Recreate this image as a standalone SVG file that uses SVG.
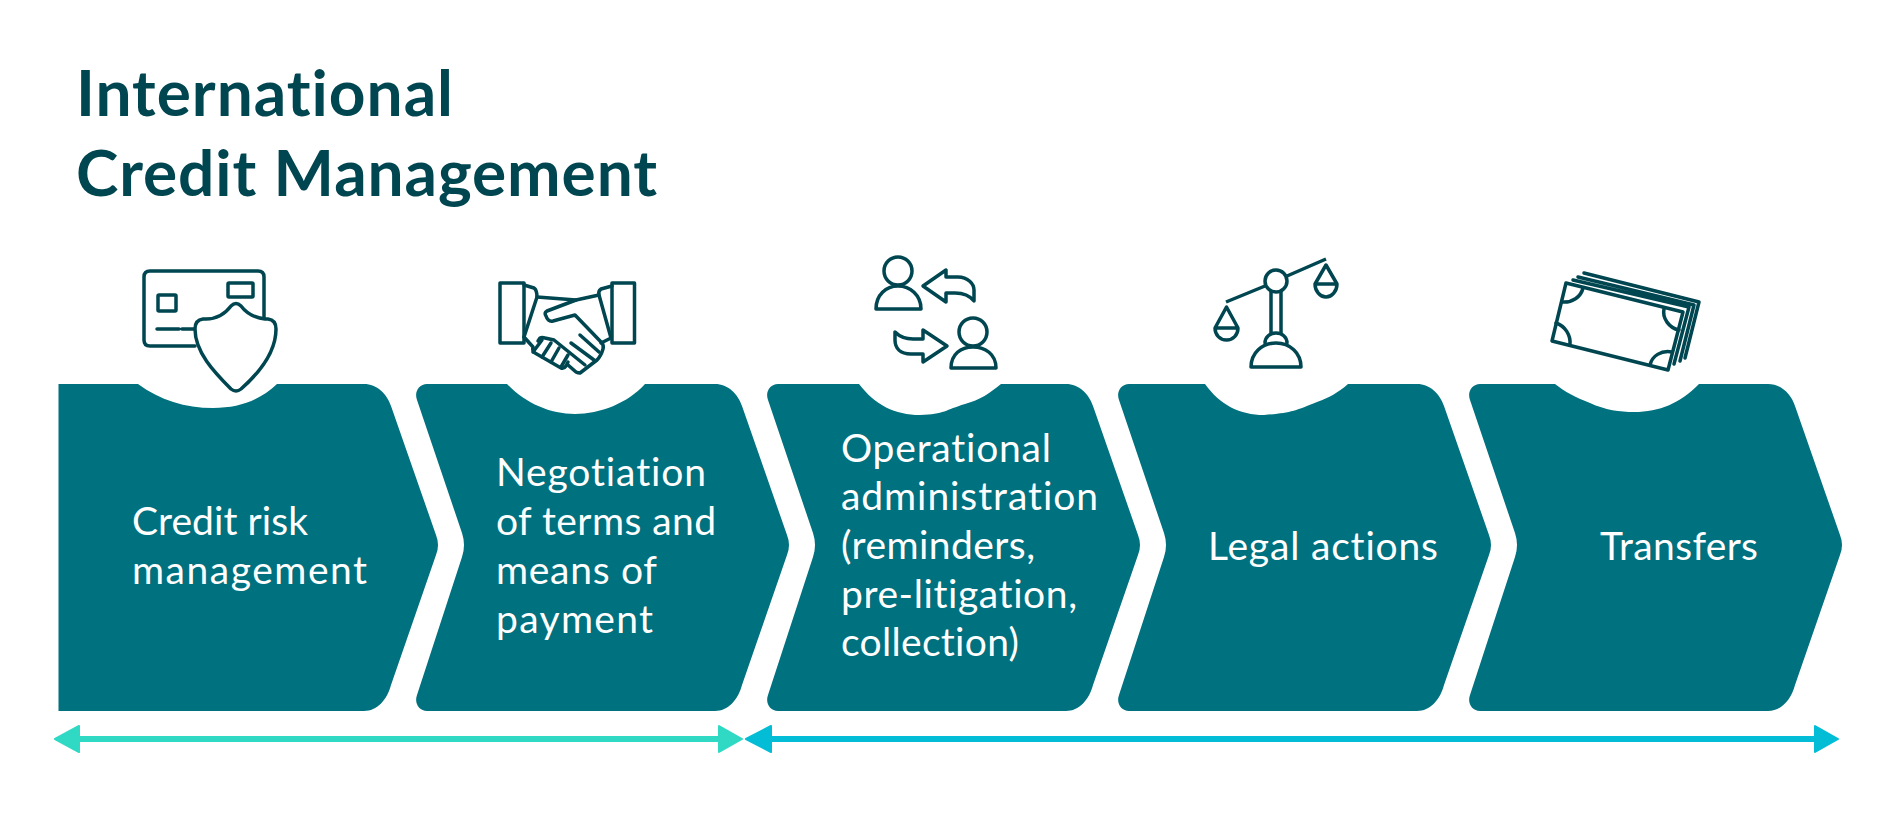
<svg xmlns="http://www.w3.org/2000/svg" width="1900" height="833" viewBox="0 0 1900 833">
<style>
text{font-variant-ligatures:none;font-family:"Lato","Noto Sans",sans-serif}
.block{fill:#00717f}
.label{font-size:39px;font-weight:400;fill:#fff}
.title{font-size:64px;font-weight:700;fill:#004651}
.icon{fill:none;stroke:#004651;stroke-width:3.500;stroke-linejoin:round;stroke-linecap:round}
.w{fill:#fff}
.a1{fill:#2fd9c4;stroke:#2fd9c4;stroke-width:2;stroke-linejoin:round}
.a2{fill:#02bdd5;stroke:#02bdd5;stroke-width:2;stroke-linejoin:round}
</style>
<rect width="1900" height="833" fill="#fff"/>
<g id="title">
<text class="title" x="76" y="116" textLength="377">International</text>
<text class="title" x="76" y="196" textLength="581">Credit Management</text>
</g>
<g id="node-credit-risk">
<path class="block" d="M58.5 384H138C160 400 185 408 213 408C240 408 260 400 277 384H364C377 384 387 394 391 406L436 535Q440 545 436 555L391 685C387 700 377 711 364 711H58.5Z"/>
<text class="label" x="132" y="535" textLength="176">Credit risk</text>
<text class="label" x="132" y="584" textLength="235">management</text>
<g class="icon">
<path d="M195 346H150Q144 346 144 340V277Q144 271 150 271H258Q264 271 264 277V318"/>
<rect x="158" y="295" width="18" height="16" rx="1"/>
<rect x="228" y="283" width="25" height="14" rx="1"/>
<path d="M157 329H179M182 329H195"/>
<path class="w" d="M231 306Q236 301 241 306C247 314 256 318 265 319H268Q276 320 276 329C276 352 258 374 241 389Q236 393 231 389C214 372 195 352 195 329Q195 320 203 319H206C216 319 225 314 231 306Z"/>
</g>
</g>
<g id="node-negotiation">
<path class="block" d="M427 384H507C525 403 550 414 575 414C600 414 628 403 645 384H715C728 384 738 394 742 406L787 535Q791 545 787 555L742 685C738 700 728 711 715 711H427C419 711 414 703 417 695L462 557Q466 545 462 533L417 400C414 392 419 384 427 384Z"/>
<text class="label" x="496" y="486" textLength="210">Negotiation</text>
<text class="label" x="496" y="535" textLength="220">of terms and</text>
<text class="label" x="496" y="584" textLength="161">means of</text>
<text class="label" x="496" y="633" textLength="157">payment</text>
<g class="icon">
<rect x="500" y="283" width="24" height="60"/>
<rect x="612" y="283" width="22.500" height="60"/>
<path d="M524 285L534 288Q537 290 537 297L524 337"/>
<path d="M537 297L576 300L599 295"/>
<path d="M612 286L601 289Q598 291 599 295L611 338L601 343"/>
<path d="M576 300L547 311Q544 313 546 316Q548 322 553 321L575 315L602 343Q604 346 603 349Q601 356 597 360L580 373Q578 373 576 372L568 365"/>
<path d="M524 337L533 347Q532 351 535 353L561 368Q564 369 566 366L568 362"/>
<path d="M538 341L540 338Q542 337 545 338L554 340L585 365"/>
<path d="M580 335L599 352M571 343L594 360"/>
<path d="M542 340L533 352M551 343L542 357M559 348L551 362M568 355L561 367"/>
</g>
</g>
<g id="node-operational">
<path class="block" d="M778 384H859C875 405 895 415 920 415C945 414 945 410 965 404C980 400 990 393 1001 384H1066C1079 384 1089 394 1093 406L1138 535Q1142 545 1138 555L1093 685C1089 700 1079 711 1066 711H778C770 711 765 703 768 695L813 557Q817 545 813 533L768 400C765 392 770 384 778 384Z"/>
<text class="label" x="841" y="462" textLength="210">Operational</text>
<text class="label" x="841" y="510" textLength="257">administration</text>
<text class="label" x="841" y="559" textLength="194">(reminders,</text>
<text class="label" x="841" y="608" textLength="236">pre-litigation,</text>
<text class="label" x="841" y="656" textLength="178">collection)</text>
<g class="icon">
<circle cx="898" cy="271" r="14"/>
<path d="M876 309C876 295 886 286 898 286C910 286 921 295 921 309Z"/>
<circle cx="973" cy="332" r="14"/>
<path d="M951 368C951 354 961 347 973 347C985 347 996 354 996 368Z"/>
<path d="M923 286L946 270V277H958C968 277 974 284 974 290V301C970 296 963 293 955 293H946V302Z"/>
<path d="M947 346L923 330V339H913C905 339 899 336 895 332V340C895 348 900 354 911 354H923V362Z"/>
</g>
</g>
<g id="node-legal">
<path class="block" d="M1129 384H1205C1220 405 1240 415 1264 415C1290 413 1295 411 1317 402C1328 398 1338 393 1348 384H1417C1430 384 1440 394 1444 406L1489 535Q1493 545 1489 555L1444 685C1440 700 1430 711 1417 711H1129C1121 711 1116 703 1119 695L1164 557Q1168 545 1164 533L1119 400C1116 392 1121 384 1129 384Z"/>
<text class="label" x="1208" y="560" textLength="230">Legal actions</text>
<g class="icon">
<circle cx="1276" cy="281" r="11"/>
<path d="M1226 302L1265 286M1287 276L1326 259" stroke-linecap="butt"/>
<path d="M1271 292V333M1281 292V333"/>
<path d="M1265 343C1265 337 1270 333 1276 333C1282 333 1287 337 1287 343"/>
<path d="M1251 367C1251 353 1262 343 1276 343C1290 343 1301 353 1301 367Z"/>
<path d="M1215 328L1226.500 307L1238 328M1215 328H1238C1238 335 1233 340 1226.500 340C1220 340 1215 335 1215 328Z"/>
<path d="M1315 284L1326 265L1337 284M1315 284H1337C1337 291 1332 297 1326 297C1320 297 1315 291 1315 284Z"/>
</g>
</g>
<g id="node-transfers">
<path class="block" d="M1480 384H1555C1565 392 1575 397 1590 403C1605 410 1620 412 1634 412C1660 412 1680 403 1699 384H1768C1781 384 1791 394 1795 406L1840 535Q1844 545 1840 555L1795 685C1791 700 1781 711 1768 711H1480C1472 711 1467 703 1470 695L1515 557Q1519 545 1515 533L1470 400C1467 392 1472 384 1480 384Z"/>
<text class="label" x="1600" y="560" textLength="158">Transfers</text>
<g class="icon">
<path d="M1566 283L1683 312L1668 370L1552 341Z"/>
<path d="M1583 288C1581 297 1572 303 1562 302M1664 309C1662 318 1669 328 1679 330M1556 323C1565 326 1571 335 1570 345M1650 365C1652 356 1661 350 1672 352"/>
<path d="M1573 280L1689 307L1674 364M1578 277L1694 305L1680 361M1584 273L1699 302L1685 358"/>
</g>
</g>
<g id="connectors">
<path class="a1" d="M719 737H79V726L55 739L79 752V741H719V752L742 739L719 726Z"/>
<path class="a2" d="M1815 737H771V726L746 739L771 752V741H1815V752L1838 739L1815 726Z"/>
</g>
</svg>
